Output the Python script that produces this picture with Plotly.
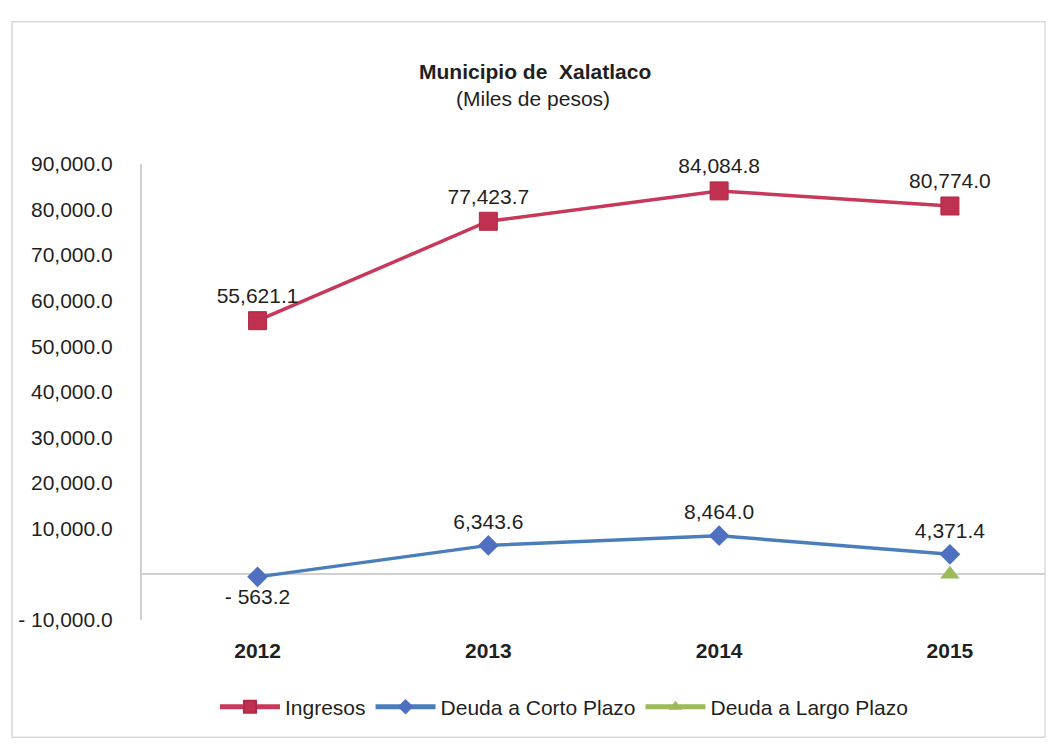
import plotly.graph_objects as go

years = [2012, 2013, 2014, 2015]
ingresos = [55621.1, 77423.7, 84084.8, 80774.0]
corto = [-563.2, 6343.6, 8464.0, 4371.4]
largo = [None, None, None, 0.0]

y_ticks = [90000, 80000, 70000, 60000, 50000, 40000, 30000, 20000, 10000, 0, -10000]


def fmt(v):
    if v is None:
        return ""
    if v < 0:
        return "- {:,.1f}".format(-v)
    if v == 0:
        return ""
    return "{:,.1f}".format(v)


W, H = 1050, 755
font = "Liberation Sans, Arial, sans-serif"
txt = "#1F1F1F"

fig = go.Figure()
fig.add_trace(go.Scatter(
    x=years, y=ingresos, name="Ingresos", mode="lines+markers+text",
    line=dict(color="#C8385A", width=3.5),
    marker=dict(symbol="square", size=18, color="#C0304F", line=dict(color="#B02A48", width=1)),
    text=[fmt(v) for v in ingresos], textposition="top center",
    textfont=dict(size=21, color=txt, family=font), cliponaxis=False,
))
fig.add_trace(go.Scatter(
    x=years, y=corto, name="Deuda a Corto Plazo", mode="lines+markers+text",
    line=dict(color="#4A7EBB", width=3.5),
    marker=dict(symbol="diamond", size=16, color="#4F6FC0"),
    text=[fmt(v) for v in corto],
    textposition=["bottom center", "top center", "top center", "top center"],
    textfont=dict(size=21, color=txt, family=font), cliponaxis=False,
))
fig.add_trace(go.Scatter(
    x=years, y=largo, name="Deuda a Largo Plazo", mode="lines+markers",
    line=dict(color="#9BBB59", width=3.5),
    marker=dict(symbol="triangle-up", size=17, color="#9BBB59"), cliponaxis=False,
))

fig.update_layout(
    width=W, height=H,
    margin=dict(l=0, r=0, t=0, b=0),
    paper_bgcolor="white", plot_bgcolor="white",
    font=dict(family=font, size=21, color=txt),
    showlegend=True,
    legend=dict(orientation="h", x=564 / W, xanchor="center", y=1 - 717 / H, yanchor="middle",
                font=dict(size=21, family=font, color=txt), itemsizing="constant",
                itemwidth=60, traceorder="normal"),
    xaxis=dict(
        domain=[141.7 / W, 1045 / W], range=[2011.498, 2015.412],
        tickvals=years, ticktext=[str(y) for y in years],
        tickfont=dict(size=21, family=font, color=txt, weight="bold"),
        showgrid=False, zeroline=False, showline=False,
        ticks="outside", ticklen=12, tickcolor="rgba(0,0,0,0)",
    ),
    yaxis=dict(
        domain=[1 - 627 / H, 1 - 156.7 / H], range=[-10000, 90000],
        tickvals=y_ticks, ticktext=[fmt(v) for v in y_ticks],
        tickfont=dict(size=21, family=font, color=txt),
        showgrid=False, showline=True, linecolor="#D0D0D0", linewidth=1.5,
        zeroline=True, zerolinecolor="#D0D0D0", zerolinewidth=1.5,
        ticks="outside", ticklen=23, tickcolor="rgba(0,0,0,0)",
    ),
    shapes=[dict(type="rect", xref="paper", yref="paper",
                 x0=12 / W, x1=1045 / W, y0=1 - 748 / H, y1=1 - 10 / H,
                 line=dict(color="#D9D9D9", width=1.5), layer="below")],
    annotations=[
        dict(text="<b>Municipio de  Xalatlaco</b>", xref="paper", yref="paper",
             x=535 / W, y=1 - 61 / H, yanchor="middle", showarrow=False,
             font=dict(size=21, family=font, color=txt)),
        dict(text="(Miles de pesos)", xref="paper", yref="paper",
             x=533 / W, y=1 - 89 / H, yanchor="middle", showarrow=False,
             font=dict(size=21, family=font, color=txt)),
    ],
)

post = (
    "document.documentElement.style.margin='0';"
    "document.documentElement.style.overflow='hidden';"
    "document.body.style.margin='0';document.body.style.padding='0';"
    "document.body.style.overflow='hidden';"
    "var d=document.querySelector('.plotly-graph-div');"
    "d.style.position='fixed';d.style.top='0';d.style.left='0';"
)

fig.write_html("out.html", post_script=post, config={"displayModeBar": False})
